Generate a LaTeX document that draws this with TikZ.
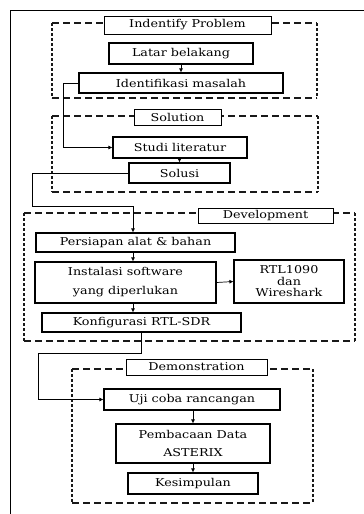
\documentclass[tikz,border=0pt]{standalone}
\usepackage{fontspec}
\setmainfont[FakeStretch=1.18]{DejaVu Serif}
\usetikzlibrary{arrows.meta,shadows}
\tikzset{
  box/.style={draw, fill=white, line width=1.1pt, inner sep=0pt, align=center,
    font=\fontsize{10.8}{12}\selectfont,
    drop shadow={shadow xshift=0.9pt, shadow yshift=-0.9pt, fill=black, opacity=1}},
  titlebox/.style={draw, fill=white, line width=0.7pt, inner sep=0pt, align=center,
    font=\fontsize{10.8}{12}\selectfont},
  hdash/.style={line width=1.2pt, dash pattern=on 7pt off 4pt, gray!20!black},
  vdash/.style={line width=1.4pt, dash pattern=on 3pt off 2pt, gray!20!black},
  conn/.style={line width=0.7pt, -{Latex[length=4pt,width=4pt]}},
  frameline/.style={line width=0.9pt}
}
\newcommand{\dashgroup}[4]{%
  \draw[hdash] (#1,#2) -- (#3,#2);
  \draw[hdash] (#1,#4) -- (#3,#4);
  \draw[vdash] (#1,#2) -- (#1,#4);
  \draw[vdash] (#3,#2) -- (#3,#4);
}
\begin{document}
\begin{tikzpicture}[x=1pt,y=-1pt]
\useasboundingbox (0,0) rectangle (364,514);
\fill[white] (0,0) rectangle (364,514);
% outer frame
\draw[frameline] (10,514) -- (10,10) -- (364,10);

% dashed groups
\dashgroup{52}{23}{317}{98}
\dashgroup{52}{116}{318}{192}
\dashgroup{24}{213}{355}{341}
\dashgroup{72}{369}{313}{503}

% titles
\node[titlebox, minimum width=167pt, minimum height=18pt] (t1) at (187.5,25) {Indentify Problem};
\node[titlebox, minimum width=87pt, minimum height=16pt] (t2) at (177.5,117) {Solution};
\node[titlebox, minimum width=135pt, minimum height=15pt] (t3) at (265.5,215.5) {Development};
\node[titlebox, minimum width=141pt, minimum height=16pt] (t4) at (196.5,367) {Demonstration};

% boxes
\node[box, minimum width=144pt, minimum height=21pt] (latar) at (181,53.5) {Latar belakang};
\node[box, minimum width=204pt, minimum height=20pt] (ident) at (181,83) {Identifikasi masalah};
\node[box, minimum width=134pt, minimum height=21pt] (studi) at (180,147.5) {Studi literatur};
\node[box, minimum width=101pt, minimum height=20pt] (solusi) at (179.5,173) {Solusi};
\node[box, minimum width=199pt, minimum height=19pt] (persiapan) at (135.5,242.5) {Persiapan alat \& bahan};
\node[box, minimum width=181pt, minimum height=41pt] (instalasi) at (125.5,282.5) {Instalasi software\\[7pt]yang diperlukan};
\node[box, minimum width=110pt, minimum height=43pt] (rtl) at (289,281.5) {RTL1090\\[-0.5pt]dan\\[-0.5pt]Wireshark};
\node[box, minimum width=199pt, minimum height=19pt] (konfig) at (141.5,322.5) {Konfigurasi RTL-SDR};
\node[box, minimum width=176pt, minimum height=21pt] (uji) at (192,399.5) {Uji coba rancangan};
\node[box, minimum width=154pt, minimum height=39pt] (baca) at (193,443.5) {Pembacaan Data\\[6pt]ASTERIX};
\node[box, minimum width=130pt, minimum height=21pt] (kes) at (193,483.5) {Kesimpulan};

% connectors
\coordinate (c1) at (63,83);
\coordinate (c2) at (32,206);
\coordinate (c3) at (133,206);
\coordinate (c4) at (38,353);
\draw[conn] (latar.south) -- (ident.north);
\draw[conn] (ident.west) -- (c1) |- (studi.west);
\draw[conn] (studi.south -| solusi.north) -- (solusi.north);
\draw[conn] (solusi.west) -| (c2) -- (c3) -- (c3 |- persiapan.north);
\draw[conn] (c3 |- persiapan.south) -- (c3 |- instalasi.north);
\draw[conn] (c3 |- instalasi.south) -- (c3 |- konfig.north);
\draw[conn] (instalasi.east) -- (rtl.west);
\draw[conn] (konfig.south) -- (konfig.south |- c4) -- (c4) |- (uji.west);
\draw[conn] (uji.south -| baca.north) -- (baca.north);
\draw[conn] (baca.south) -- (kes.north);
\end{tikzpicture}
\end{document}
